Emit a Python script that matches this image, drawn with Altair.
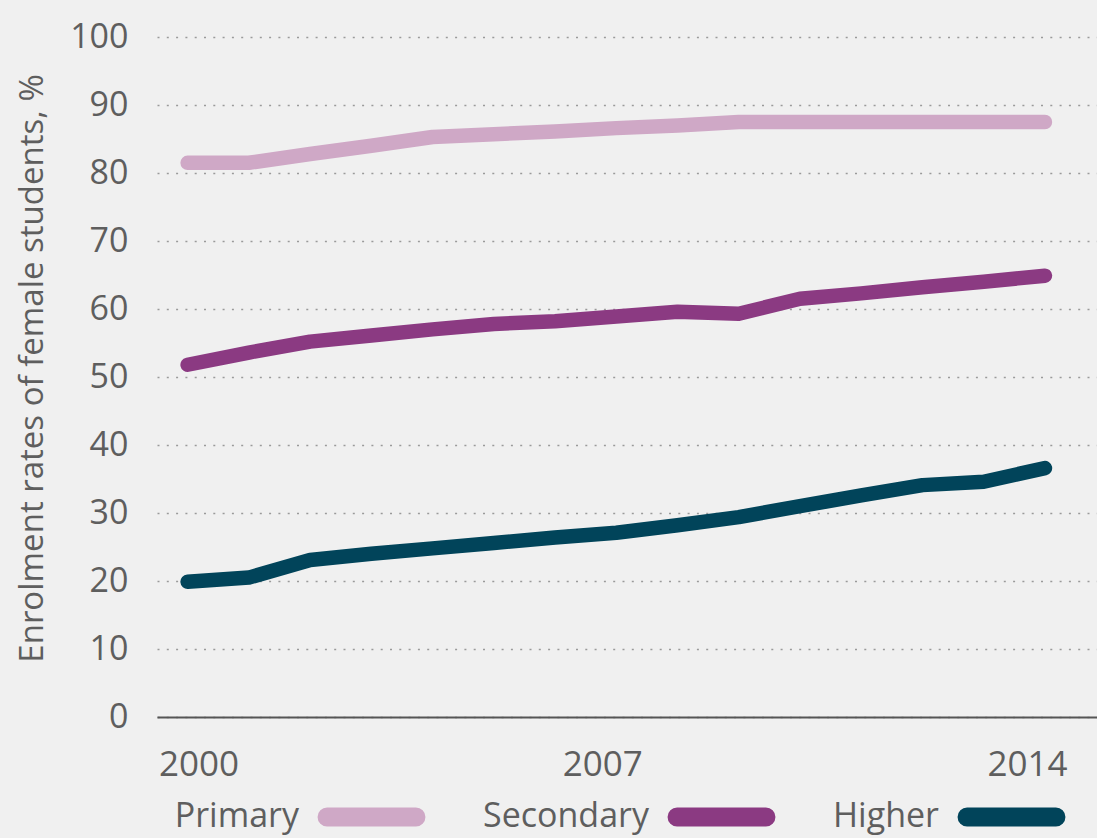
import altair as alt
import pandas as pd

years = list(range(2000, 2015))
primary = [81.5, 81.5, 82.8, 84.0, 85.3, 85.7, 86.1, 86.6, 87.0, 87.5, 87.5, 87.5, 87.5, 87.5, 87.5]
secondary = [51.8, 53.6, 55.2, 56.1, 57.0, 57.8, 58.2, 58.9, 59.6, 59.3, 61.5, 62.3, 63.2, 64.0, 64.9]
higher = [19.9, 20.5, 23.1, 24.0, 24.8, 25.6, 26.4, 27.1, 28.2, 29.4, 31.0, 32.6, 34.1, 34.6, 36.6]

series_names = ["Primary", "Secondary", "Higher"]
series_colors = ["#cfa8c6", "#8b3a82", "#01445a"]

rows = []
for name, vals in zip(series_names, [primary, secondary, higher]):
    for y, v in zip(years, vals):
        rows.append({"Year": y, "Value": v, "Level": name})
df = pd.DataFrame(rows)

FONT = "Open Sans"
TXT = "#5e5e5e"

capsule = "M-0.83,-0.01 L0.83,-0.01 A0.01,0.01 0 0 1 0.83,0.01 L-0.83,0.01 A0.01,0.01 0 0 1 -0.83,-0.01 Z"

chart = alt.Chart(df).mark_line(
    strokeWidth=14.5, strokeCap="round", strokeJoin="round"
).encode(
    x=alt.X("Year:Q",
            scale=alt.Scale(domain=[1999.5, 2014.85], nice=False, zero=False),
            axis=alt.Axis(values=[2000, 2007, 2014], format="d", title=None,
                          grid=False, ticks=False, domain=True,
                          domainColor="#555555", domainWidth=2,
                          labelFont=FONT, labelFontSize=35, labelColor=TXT,
                          labelPadding=30,
                          labelOffset={"condition": [
                              {"test": "datum.value == 2000", "value": 11},
                              {"test": "datum.value == 2014", "value": -18}],
                              "value": -14})),
    y=alt.Y("Value:Q",
            scale=alt.Scale(domain=[0, 100], nice=False),
            axis=alt.Axis(values=list(range(0, 101, 10)),
                          title="Enrolment rates of female students, %",
                          titleFont=FONT, titleFontSize=33, titleFontWeight="normal",
                          titleColor=TXT, titlePadding=20, titleY=331,
                          grid=True, gridColor="#9a9a9a", gridDash=[2, 7.3], gridWidth=1.6,
                          ticks=False, domain=False,
                          labelFont=FONT, labelFontSize=34, labelColor=TXT,
                          labelPadding=29)),
    color=alt.Color("Level:N",
                    scale=alt.Scale(domain=series_names, range=series_colors),
                    legend=alt.Legend(orient="none", legendX=152, legendY=717,
                                      direction="horizontal", title=None,
                                      symbolType=capsule, symbolSize=11449,
                                      symbolStrokeWidth=18,
                                      labelAlign="right", labelOffset={"expr": "-135"},
                                      labelLimit=400,
                                      labelFont=FONT, labelFontSize=34, labelColor=TXT,
                                      columnPadding=30)),
).properties(
    width=940, height=680,
    background="#f0f0f0",
    padding={"left": 157, "top": 37, "right": 0, "bottom": 121},
    autosize=alt.AutoSizeParams(type="none"),
).configure_view(stroke=None)

chart.save("out.html", embed_options={"renderer": "svg", "actions": False})
